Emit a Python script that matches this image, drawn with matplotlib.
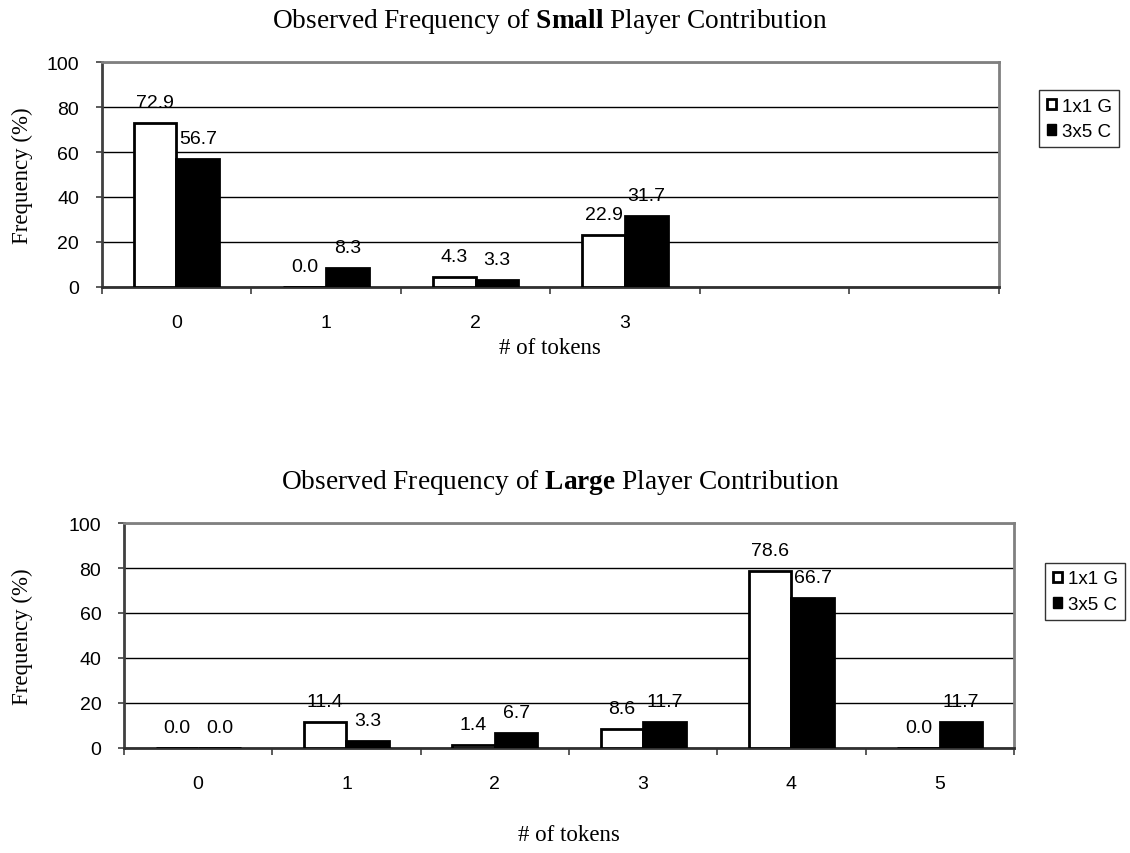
import numpy as np
import matplotlib.pyplot as plt
from matplotlib.patches import Patch

plt.rcParams['font.family'] = 'Liberation Sans'
plt.rcParams['mathtext.fontset'] = 'custom'
plt.rcParams['mathtext.rm'] = 'Liberation Serif'
plt.rcParams['mathtext.bf'] = 'Liberation Serif:bold'

# data
small_tokens = ["0", "1", "2", "3"]
small_g = [72.9, 0.0, 4.3, 22.9]
small_c = [56.7, 8.3, 3.3, 31.7]

large_tokens = ["0", "1", "2", "3", "4", "5"]
large_g = [0.0, 11.4, 1.4, 8.6, 78.6, 0.0]
large_c = [0.0, 3.3, 6.7, 11.7, 66.7, 11.7]

series_names = ["1x1 G", "3x5 C"]
n_slots = 6

fig = plt.figure(figsize=(11.3, 8.54), dpi=100)
ax1 = fig.add_axes([0.090, 0.6628, 0.794, 0.2634])
ax2 = fig.add_axes([0.1097, 0.1230, 0.7876, 0.2634])

w = 0.287
serif = "Liberation Serif"


def draw(ax, labels, g, c, title, title_x, xlabel_pad):
    x = np.arange(len(labels))
    b1 = ax.bar(x - w / 2, g, w, color="white", edgecolor="black", linewidth=2, zorder=3)
    b2 = ax.bar(x + w / 2, c, w, color="black", edgecolor="black", linewidth=2, zorder=3)
    for bars, vals in ((b1, g), (b2, c)):
        for b, v in zip(bars, vals):
            ax.annotate("%.1f" % v, (b.get_x() + b.get_width() / 2, v),
                        xytext=(0, 11.5), textcoords="offset points",
                        ha="center", va="baseline", fontsize=14)
    ax.set_xlim(-0.5, n_slots - 0.5)
    ax.set_ylim(0, 100)
    ax.set_yticks(np.arange(0, 101, 20))
    ax.yaxis.grid(True, color="black", linewidth=1.0, zorder=0)
    ax.set_axisbelow(True)
    ax.set_xticks(np.arange(-0.5, n_slots, 1.0))
    ax.set_xticklabels([])
    ax.set_xticks(x, minor=True)
    ax.set_xticklabels(labels, minor=True)
    ax.tick_params(axis="x", which="major", length=5, width=1.2, direction="out", color="#404040")
    ax.tick_params(axis="x", which="minor", length=0, pad=19.5, labelsize=14)
    ax.tick_params(axis="y", length=4.3, width=1.2, pad=12, labelsize=14, color="#404040")
    for s in ("top", "right"):
        ax.spines[s].set_color("#808080")
        ax.spines[s].set_linewidth(2)
    ax.spines["left"].set_linewidth(2)
    ax.spines["left"].set_color("#404040")
    ax.spines["bottom"].set_linewidth(2)
    ax.spines["bottom"].set_color("#303030")
    ax.set_xlabel("# of tokens", fontfamily=serif, fontsize=16.5, labelpad=xlabel_pad)
    ax.set_title(title, fontfamily=serif, fontsize=19.7, pad=25, x=title_x)
    pos = ax.get_position()
    fig.text(22 / 1130, (pos.y0 + pos.y1) / 2, "Frequency (%)", rotation=90,
             ha="center", va="center", fontfamily=serif, fontsize=16.5)
    handles = [Patch(facecolor="white", edgecolor="black", linewidth=2),
               Patch(facecolor="black", edgecolor="black")]
    return handles


h = draw(ax1, small_tokens, small_g, small_c,
         r"Observed Frequency of $\mathbf{Small}$ Player Contribution", 0.5, 4.5)
draw(ax2, large_tokens, large_g, large_c,
     r"Observed Frequency of $\mathbf{Large}$ Player Contribution", 0.49, 23)

for x0, y in ((1039 / 1130, 1 - 91 / 854), (1045 / 1130, 1 - 564 / 854)):
    leg = fig.legend(h, series_names, loc="upper left", bbox_to_anchor=(x0, y),
                     fontsize=13.5, frameon=True, fancybox=False, edgecolor="black",
                     handlelength=0.5, handleheight=0.5, handletextpad=0.3,
                     borderpad=0.4, labelspacing=0.45, borderaxespad=0)
    leg.get_frame().set_linewidth(1.0)

fig.savefig("out.png", dpi=100)
